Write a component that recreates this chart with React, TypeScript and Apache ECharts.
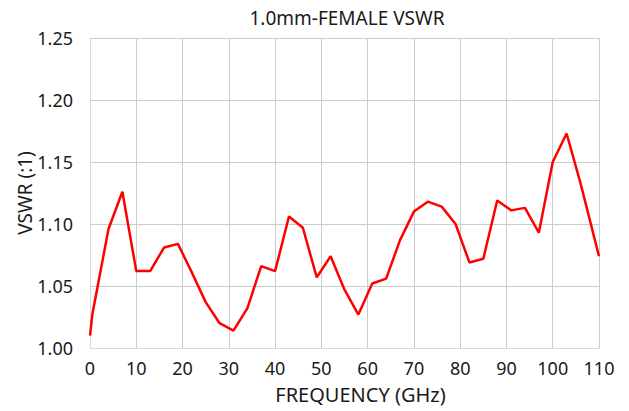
import React, { useEffect, useRef } from "react";
import * as echarts from "echarts";

const frequencies = [0, 0.5, 4, 7, 10, 13, 16, 19, 22, 25, 28, 31, 34, 37, 40, 43, 46, 49, 52, 55, 58, 61, 64, 67, 70, 73, 76, 79, 82, 85, 88, 91, 94, 97, 100, 103, 106, 110];
const vswr = [1.010, 1.027, 1.096, 1.126, 1.062, 1.062, 1.081, 1.084, 1.061, 1.037, 1.020, 1.014, 1.032, 1.066, 1.062, 1.106, 1.097, 1.057, 1.074, 1.047, 1.027, 1.052, 1.056, 1.087, 1.110, 1.118, 1.114, 1.100, 1.069, 1.072, 1.119, 1.111, 1.113, 1.093, 1.150, 1.173, 1.133, 1.074];

const titleText = "1.0mm-FEMALE VSWR";
const xName = "FREQUENCY (GHz)";
const yName = "VSWR (:1)";

export default function App() {
  const ref = useRef<HTMLDivElement>(null);
  useEffect(() => {
    if (!ref.current) return;
    const chart = echarts.init(ref.current, undefined, { renderer: "svg" });
    const font = "'Noto Sans', 'Open Sans', sans-serif";
    chart.setOption({
      animation: false,
      backgroundColor: "#ffffff",
      textStyle: { fontFamily: font },
      title: {
        text: titleText,
        left: 342,
        textAlign: "center",
        top: 3,
        textStyle: { fontSize: 19, fontWeight: "normal", color: "#1a1a1a", fontFamily: font },
      },
      grid: { left: 90, right: 30, top: 38, bottom: 63, containLabel: false },
      xAxis: {
        type: "value",
        min: 0,
        max: 110,
        interval: 10,
        name: xName,
        nameLocation: "middle",
        nameGap: 36,
        nameMoveOverlap: false,
        nameTextStyle: { fontSize: 20, color: "#1a1a1a", fontFamily: font, padding: [0, 0, 0, 32] },
        axisLine: { show: true, lineStyle: { color: "#d9d9d9", width: 1 } },
        axisTick: { show: false },
        axisLabel: { fontSize: 18, color: "#1a1a1a", margin: 11, fontFamily: font },
        splitLine: { show: true, lineStyle: { color: "#cccccc", width: 1 } },
      },
      yAxis: {
        type: "value",
        min: 1.0,
        max: 1.25,
        interval: 0.05,
        name: yName,
        nameLocation: "middle",
        nameGap: 56,
        nameMoveOverlap: false,
        nameRotate: 90,
        nameTextStyle: { fontSize: 19, color: "#1a1a1a", fontFamily: font },
        axisLine: { show: true, lineStyle: { color: "#d9d9d9", width: 1 } },
        axisTick: { show: false },
        axisLabel: {
          fontSize: 18,
          color: "#1a1a1a",
          margin: 17,
          fontFamily: font,
          formatter: (v: number) => v.toFixed(2),
        },
        splitLine: { show: true, lineStyle: { color: "#cccccc", width: 1 } },
      },
      series: [
        {
          type: "line",
          data: frequencies.map((f, i) => [f, vswr[i]]),
          showSymbol: false,
          symbol: "none",
          lineStyle: { color: "#ff0000", width: 2.5 },
          itemStyle: { color: "#ff0000" },
        },
      ],
    });
    return () => chart.dispose();
  }, []);
  return (
    <div
      ref={ref}
      style={{ position: "fixed", left: 0, top: 0, width: 629, height: 411 }}
    />
  );
}
